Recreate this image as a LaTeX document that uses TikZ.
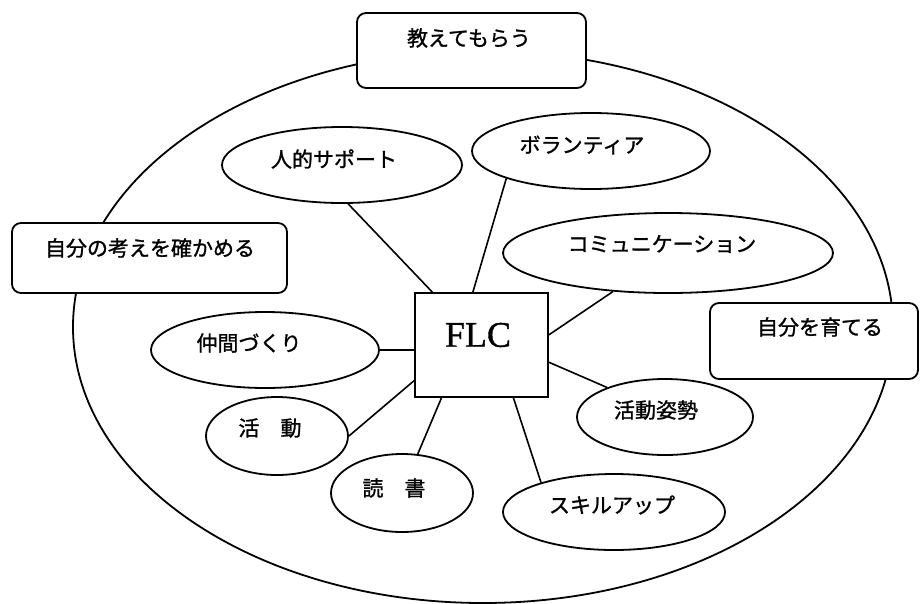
\documentclass[tikz,border=0pt]{standalone}
\usepackage{fontspec}
\newfontfamily\jpfont[FakeBold=1.2]{Noto Sans CJK JP}
\newfontfamily\flcfont[FakeBold=1]{Liberation Serif}
\usetikzlibrary{shapes.geometric,calc}
\tikzset{
  lw/.style={line width=1.8pt},
  bubble/.style={draw, ellipse, lw, inner sep=0pt},
  txt/.style={font=\jpfont\fontsize{21pt}{25pt}\selectfont, inner sep=0pt},
  rbox/.style={draw, lw, rounded corners=9pt, fill=white, inner sep=0pt},
  link/.style={line width=1.6pt},
}
\begin{document}
\begin{tikzpicture}[x=1pt,y=1pt]
\useasboundingbox (0,0) rectangle (921,-603);
% outer ellipse
\node[bubble, minimum width=820pt, minimum height=552pt] (outer) at (483,-327) {};
% rounded boxes
\node[rbox, minimum width=229pt, minimum height=75pt] (boxA) at (471.5,-50.5) {};
\node[txt] (tA) at (469,-38) {教えてもらう};
\node[rbox, minimum width=275pt, minimum height=70pt] (boxB) at (149.5,-258) {};
\node[txt] (tB) at (150,-248) {自分の考えを確かめる};
\node[rbox, minimum width=208pt, minimum height=76pt] (boxC) at (814,-341) {};
\node[txt] (tC) at (820,-327) {自分を育てる};
% centre box
\node[draw, lw, fill=white, minimum width=133pt, minimum height=104pt, inner sep=0pt] (flc) at (481.5,-345) {};
\node[font=\flcfont\fontsize{36pt}{40pt}\selectfont, inner sep=0pt] (tflc) at (478,-335) {FLC};
% ellipses
\node[bubble, minimum width=240pt, minimum height=76pt] (jin) at (342,-165) {};
\node[txt] (tjin) at (334,-159) {人的サポート};
\node[bubble, minimum width=238pt, minimum height=76pt] (vol) at (591,-151) {};
\node[txt] (tvol) at (582,-145) {ボランティア};
\node[bubble, minimum width=330pt, minimum height=80pt] (com) at (668,-253) {};
\node[txt] (tcom) at (662,-244) {コミュニケーション};
\node[bubble, minimum width=228pt, minimum height=76pt] (naka) at (265,-350) {};
\node[txt] (tnaka) at (249,-343) {仲間づくり};
\node[bubble, minimum width=142pt, minimum height=78pt] (katsu) at (277,-436) {};
\node[txt] (tkatsu) at (270,-428) {活　動};
\node[bubble, minimum width=142pt, minimum height=78pt] (doku) at (402,-493) {};
\node[txt] (tdoku) at (394,-488) {読　書};
\node[bubble, minimum width=176pt, minimum height=76pt] (shisei) at (665,-417) {};
\node[txt] (tshisei) at (656,-410) {活動姿勢};
\node[bubble, minimum width=222pt, minimum height=76pt] (skill) at (614,-512) {};
\node[txt] (tskill) at (612,-505) {スキルアップ};
% connectors
\draw[link] (jin.-81) -- ($(flc.north west)!0.135!(flc.north east)$);
\draw[link] (vol.-162) -- ($(flc.north west)!0.436!(flc.north east)$);
\draw[link] (com.-145) -- ($(flc.north east)!0.404!(flc.south east)$);
\draw[link] (naka.east) -- (naka.east -| flc.west);
\draw[link] (katsu.east) -- ($(flc.north west)!0.837!(flc.south west)$);
\draw[link] (doku.68) -- ($(flc.south west)!0.203!(flc.south east)$);
\draw[link] (shisei.153) -- ($(flc.north east)!0.663!(flc.south east)$);
\draw[link] (skill.158) -- ($(flc.south west)!0.737!(flc.south east)$);
\end{tikzpicture}
\end{document}
